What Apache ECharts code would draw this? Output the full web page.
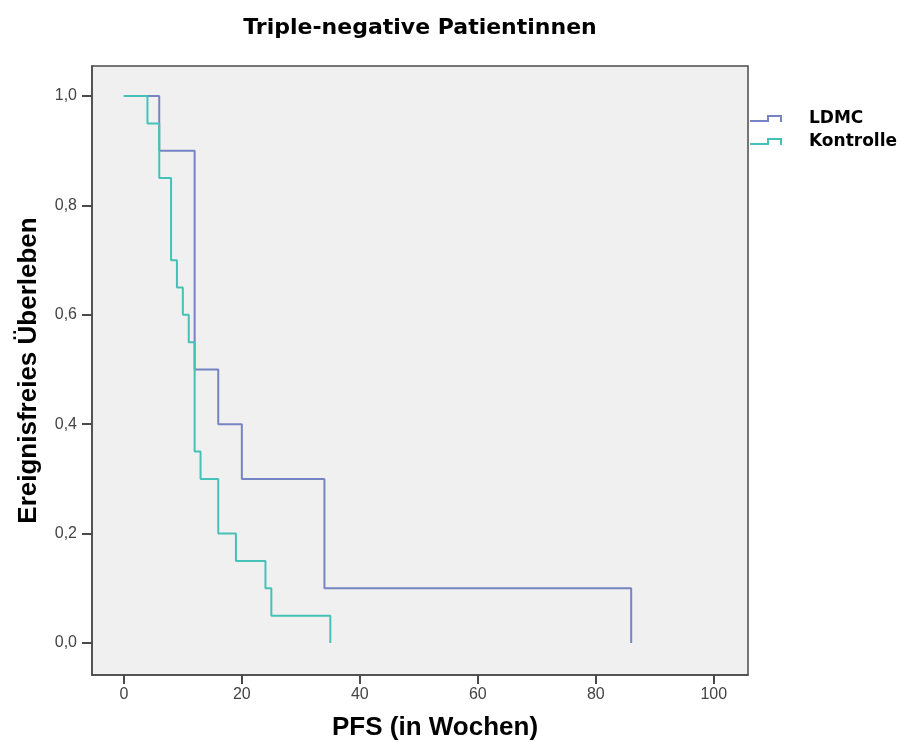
<!DOCTYPE html>
<html>
<head>
<meta charset="utf-8">
<script src="https://cdn.jsdelivr.net/npm/echarts@6/dist/echarts.min.js"></script>
<style>html,body{margin:0;padding:0;background:#fff}#c{width:902px;height:742px}</style>
</head>
<body>
<div id="c"></div>
<script>
const titleText = 'Triple-negative Patientinnen';
const xName = 'PFS (in Wochen)';
const yName = 'Ereignisfreies Überleben';
const xTicks = [0, 20, 40, 60, 80, 100];
const yTicks = [0, 0.2, 0.4, 0.6, 0.8, 1.0];

const ldmcTimes = [0, 6, 12, 16, 20, 34, 86];
const ldmcSurv = [1.0, 0.9, 0.5, 0.4, 0.3, 0.1, 0.0];

const kontrolleTimes = [0, 4, 6, 8, 9, 10, 11, 12, 13, 16, 19, 24, 25, 35];
const kontrolleSurv = [1.0, 0.95, 0.85, 0.70, 0.65, 0.60, 0.55, 0.35, 0.30, 0.20, 0.15, 0.10, 0.05, 0.0];

const seriesNames = ['LDMC', 'Kontrolle'];
const colors = ['#7684c4', '#45c2b8'];

const font = 'Arial, "Liberation Sans", sans-serif';
const wideFont = '"DejaVu Sans", Arial, sans-serif';
const pairs = (t, s) => t.map((v, i) => [v, s[i]]);
const stepIcon = 'path://M0,5 L17,5 L17,0 L32,0 L32,7 L30,7 L30,2 L19,2 L19,7 L0,7 Z';
const axisColor = '#4a4a4a';

const chart = echarts.init(document.getElementById('c'), null, {renderer: 'canvas'});
chart.setOption({
  animation: false,
  backgroundColor: '#ffffff',
  title: {
    text: titleText, left: 415, top: 12, textAlign: 'center',
    textStyle: {fontFamily: wideFont, fontSize: 22, fontWeight: 'bold', color: '#000'}
  },
  legend: {
    orient: 'vertical', left: 745, top: 105, itemGap: 6,
    itemWidth: 32, itemHeight: 7,
    data: seriesNames.map((n, i) => ({name: n, icon: stepIcon, itemStyle: {color: colors[i]}})),
    textStyle: {fontFamily: wideFont, fontSize: 17, fontWeight: 'bold', color: '#000', padding: [0, 0, 0, 22]}
  },
  grid: {
    left: 92, right: 154, top: 66, bottom: 67,
    outerBoundsMode: 'none',
    show: true, backgroundColor: '#f0f0f0', borderColor: axisColor, borderWidth: 1.5
  },
  xAxis: [{
    type: 'value', min: -5.4, max: 105.8, position: 'bottom',
    name: xName, nameLocation: 'middle', nameGap: 40,
    nameTextStyle: {fontFamily: font, fontSize: 26, fontWeight: 'bold', color: '#000', padding: [0, 0, 0, 30]},
    axisLine: {show: true, onZero: false, lineStyle: {color: axisColor, width: 1.5}},
    axisTick: {show: true, customValues: xTicks, length: 9, lineStyle: {color: axisColor, width: 2}},
    axisLabel: {customValues: xTicks, margin: 12, fontFamily: font, fontSize: 16, color: '#444'},
    splitLine: {show: false}
  }, {
    type: 'value', min: -5.4, max: 105.8, position: 'bottom',
    axisLine: {show: false, onZero: false},
    axisTick: {show: true, customValues: xTicks, length: 9, lineStyle: {color: axisColor, width: 2}},
    axisLabel: {show: false, customValues: xTicks},
    splitLine: {show: false}
  }],
  yAxis: {
    type: 'value', min: -0.0585, max: 1.055,
    name: yName, nameLocation: 'middle', nameGap: 50, nameRotate: 90,
    nameTextStyle: {fontFamily: font, fontSize: 26, fontWeight: 'bold', color: '#000'},
    axisLine: {show: true, onZero: false, lineStyle: {color: axisColor, width: 1.5}},
    axisTick: {show: true, customValues: yTicks, length: 10, lineStyle: {color: axisColor, width: 2}},
    axisLabel: {customValues: yTicks, margin: 15, fontFamily: font, fontSize: 16, color: '#444',
      formatter: v => v.toFixed(1).replace('.', ',')},
    splitLine: {show: false}
  },
  series: [
    {name: seriesNames[0], type: 'line', step: 'end', data: pairs(ldmcTimes, ldmcSurv),
     showSymbol: false, symbol: 'none', lineStyle: {color: colors[0], width: 2}, itemStyle: {color: colors[0]}},
    {name: seriesNames[1], type: 'line', step: 'end', data: pairs(kontrolleTimes, kontrolleSurv),
     showSymbol: false, symbol: 'none', lineStyle: {color: colors[1], width: 2}, itemStyle: {color: colors[1]}}
  ]
});
</script>
</body>
</html>
